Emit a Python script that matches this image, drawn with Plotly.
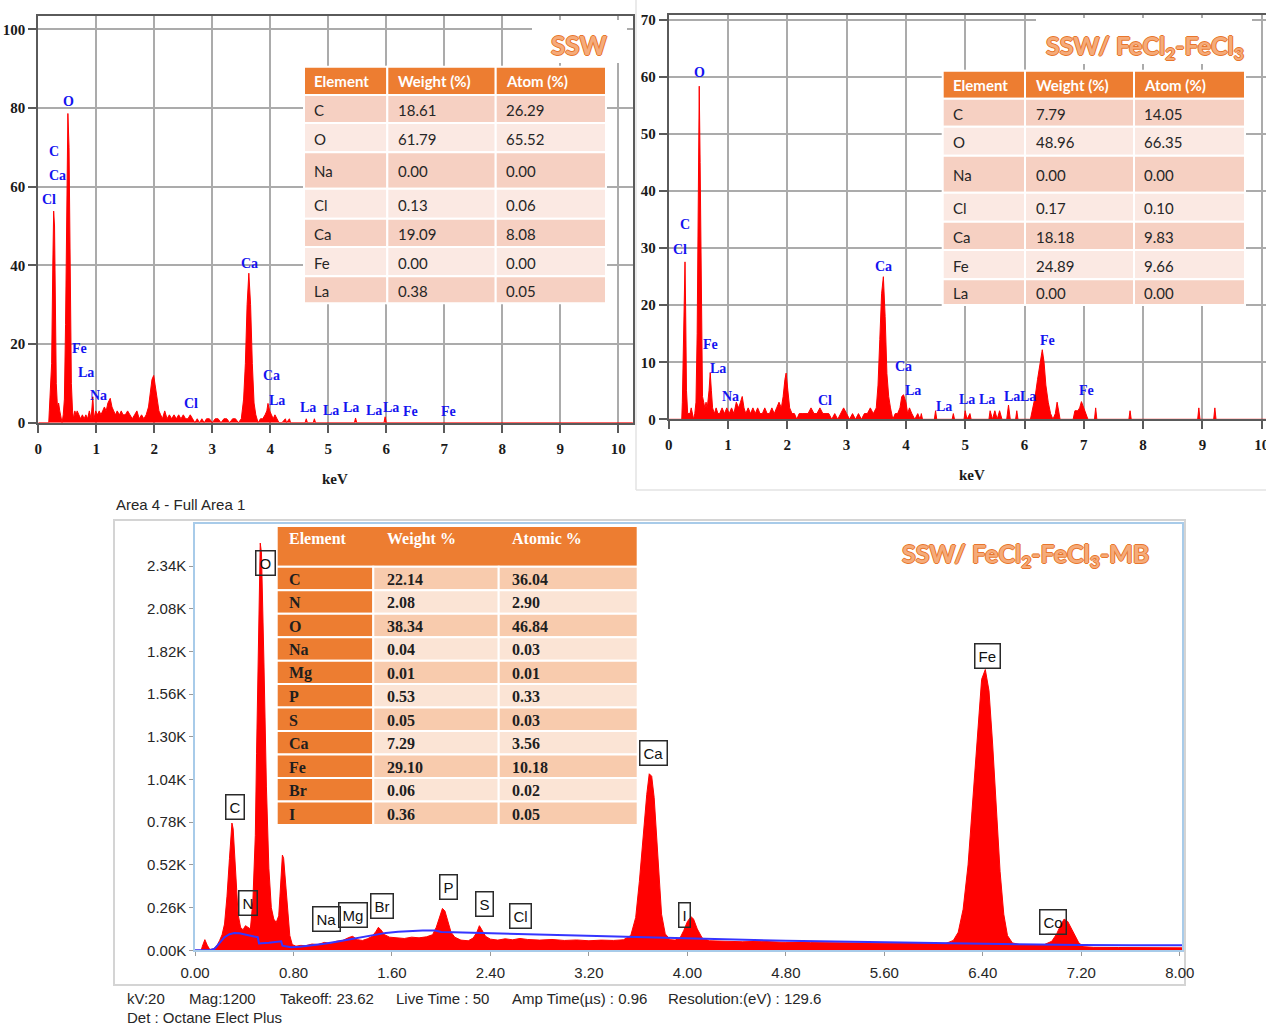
import plotly.graph_objects as go

# ---------------------------------------------------------------- data
# SSW spectrum (keV, counts)
ssw_spectrum = [
    (0.00, 0), (0.18, 0), (0.19, 3), (0.21, 8), (0.23, 15), (0.25, 40), (0.265, 53.8), (0.28, 50),
    (0.29, 30), (0.31, 10), (0.33, 4), (0.35, 5), (0.37, 3), (0.39, 1), (0.41, 0), (0.43, 2),
    (0.45, 6), (0.47, 25), (0.49, 55), (0.51, 78.6), (0.53, 70), (0.55, 35), (0.57, 10), (0.59, 3),
    (0.61, 1), (0.63, 3), (0.65, 2), (0.67, 3), (0.70, 2), (0.73, 1), (0.76, 2), (0.79, 1),
    (0.82, 2), (0.85, 1), (0.88, 3), (0.91, 1), (0.94, 6.6), (0.96, 1), (0.99, 3), (1.02, 2),
    (1.05, 3), (1.08, 2), (1.11, 3), (1.14, 4), (1.17, 3), (1.20, 5), (1.24, 6.2), (1.27, 4),
    (1.30, 3), (1.33, 2), (1.36, 3), (1.40, 2), (1.43, 3), (1.46, 2), (1.50, 2), (1.54, 3),
    (1.58, 2), (1.62, 1), (1.66, 2), (1.70, 3), (1.74, 1), (1.78, 2), (1.82, 1), (1.86, 2),
    (1.90, 4), (1.93, 8), (1.96, 11), (1.99, 12), (2.02, 9), (2.05, 5), (2.08, 3), (2.11, 2),
    (2.14, 1), (2.18, 3), (2.22, 1), (2.26, 2), (2.30, 1), (2.34, 2), (2.38, 1), (2.42, 2),
    (2.46, 1), (2.50, 2), (2.54, 1), (2.58, 1), (2.62, 2), (2.66, 1), (2.70, 0), (2.74, 1),
    (2.78, 0), (2.82, 1), (2.86, 0), (2.90, 1), (2.95, 1), (3.00, 0), (3.05, 1), (3.10, 1),
    (3.15, 0), (3.20, 1), (3.25, 1), (3.30, 0), (3.35, 1), (3.40, 1), (3.45, 0), (3.50, 1),
    (3.54, 6), (3.57, 15), (3.60, 30), (3.63, 38), (3.66, 30), (3.69, 15), (3.72, 5), (3.75, 2),
    (3.79, 0), (3.83, 1), (3.87, 1), (3.91, 2), (3.94, 3), (3.96, 4.9), (3.99, 3), (4.02, 2),
    (4.05, 1), (4.08, 2), (4.11, 1), (4.15, 0), (4.20, 0), (4.26, 1), (4.28, 0), (4.33, 1),
    (4.35, 0), (4.60, 0), (4.62, 1), (4.64, 0), (4.74, 0), (4.76, 1), (4.78, 0), (5.45, 0),
    (5.47, 1.2), (5.49, 0), (5.96, 0), (5.98, 1.5), (6.00, 0), (10.25, 0),
]

# SSW/FeCl2-FeCl3 spectrum (keV, counts)
fe_spectrum = [
    (0.00, 0), (0.22, 0), (0.23, 3), (0.25, 12), (0.265, 22), (0.275, 27.6), (0.285, 20), (0.30, 5),
    (0.32, 1), (0.34, 1), (0.36, 1), (0.38, 2), (0.40, 1), (0.42, 0), (0.44, 1), (0.46, 3),
    (0.48, 15), (0.50, 40), (0.515, 58.4), (0.53, 45), (0.55, 15), (0.57, 4), (0.59, 3), (0.61, 2),
    (0.63, 3), (0.65, 2), (0.68, 5), (0.70, 8.2), (0.72, 5), (0.74, 2), (0.77, 1), (0.80, 2),
    (0.83, 1), (0.86, 1), (0.90, 2), (0.94, 1), (0.98, 2), (1.02, 1), (1.06, 2), (1.10, 1),
    (1.14, 3), (1.18, 2), (1.21, 3), (1.24, 4), (1.27, 2), (1.30, 1), (1.34, 2), (1.38, 1),
    (1.42, 2), (1.46, 1), (1.50, 2), (1.54, 1), (1.58, 1), (1.62, 2), (1.66, 1), (1.70, 1),
    (1.74, 2), (1.78, 1), (1.82, 2), (1.86, 3), (1.90, 2), (1.93, 4), (1.96, 7), (1.98, 8.1),
    (2.01, 5), (2.04, 2), (2.08, 1), (2.12, 1), (2.16, 0), (2.20, 1), (2.25, 1), (2.30, 1),
    (2.35, 1), (2.40, 2), (2.45, 1), (2.50, 1), (2.55, 2), (2.60, 1), (2.65, 1), (2.70, 1),
    (2.75, 0), (2.80, 1), (2.85, 0), (2.90, 1), (2.95, 2), (3.00, 1), (3.05, 0), (3.10, 1),
    (3.15, 0), (3.20, 1), (3.25, 0), (3.30, 1), (3.35, 1), (3.40, 2), (3.45, 1), (3.50, 2),
    (3.53, 6), (3.56, 14), (3.59, 22), (3.62, 25), (3.65, 18), (3.68, 8), (3.71, 4), (3.74, 2),
    (3.78, 0), (3.82, 1), (3.86, 1), (3.90, 2), (3.93, 4), (3.96, 4.3), (4.00, 3), (4.03, 1),
    (4.06, 2), (4.10, 1), (4.15, 0), (4.20, 1), (4.24, 0), (4.26, 1), (4.28, 0), (4.48, 0),
    (4.50, 1.5), (4.52, 0), (4.78, 0), (4.80, 1), (4.82, 0), (4.98, 0), (5.00, 1.5), (5.03, 0),
    (5.08, 1), (5.10, 0), (5.40, 0), (5.42, 1.5), (5.46, 0), (5.50, 1.5), (5.54, 0), (5.58, 1.5),
    (5.62, 0), (5.70, 0), (5.73, 2.5), (5.76, 0), (5.85, 0), (5.87, 1.5), (5.89, 0), (6.10, 0),
    (6.14, 2), (6.18, 4), (6.22, 7), (6.26, 10), (6.30, 12.2), (6.33, 10), (6.36, 6), (6.40, 3),
    (6.44, 1), (6.48, 0), (6.52, 1), (6.55, 3), (6.58, 1), (6.60, 0), (6.82, 0), (6.85, 1.5),
    (6.90, 1.5), (6.93, 2), (6.96, 3.1), (7.00, 2), (7.04, 1), (7.07, 0), (7.18, 0), (7.20, 2),
    (7.22, 0), (7.76, 0), (7.78, 1.5), (7.80, 0), (8.92, 0), (8.94, 2), (8.96, 0), (9.19, 0),
    (9.21, 2), (9.23, 0), (10.07, 0),
]

# SSW/FeCl2-FeCl3-MB spectrum (keV, counts)
mb_spectrum = [
    (0.00, 0), (0.05, 0), (0.06, 25), (0.08, 65), (0.10, 30), (0.12, 5), (0.15, 8), (0.18, 30),
    (0.20, 60), (0.22, 95), (0.24, 160), (0.26, 330), (0.28, 560), (0.29, 700), (0.30, 775),
    (0.31, 740), (0.32, 620), (0.33, 430), (0.35, 220), (0.37, 140), (0.39, 125), (0.41, 150),
    (0.43, 140), (0.45, 130), (0.47, 300), (0.49, 700), (0.50, 1200), (0.51, 1700), (0.52, 2150),
    (0.53, 2480), (0.54, 2420), (0.55, 2150), (0.56, 1750), (0.58, 1000), (0.60, 500), (0.62, 260),
    (0.64, 190), (0.66, 170), (0.68, 210), (0.69, 330), (0.70, 480), (0.71, 580), (0.72, 560),
    (0.73, 470), (0.75, 260), (0.77, 90), (0.79, 35), (0.82, 25), (0.86, 30), (0.90, 28),
    (0.95, 38), (1.00, 35), (1.05, 48), (1.10, 42), (1.15, 55), (1.20, 60), (1.25, 78), (1.28, 85),
    (1.32, 65), (1.36, 60), (1.40, 70), (1.44, 85), (1.47, 115), (1.49, 140), (1.51, 125),
    (1.54, 95), (1.58, 80), (1.64, 78), (1.70, 72), (1.76, 80), (1.82, 76), (1.88, 82), (1.93, 95),
    (1.96, 140), (1.99, 215), (2.01, 255), (2.03, 240), (2.05, 190), (2.08, 110), (2.11, 80),
    (2.16, 62), (2.22, 58), (2.26, 75), (2.29, 110), (2.31, 150), (2.33, 125), (2.36, 85),
    (2.40, 68), (2.46, 62), (2.52, 70), (2.58, 64), (2.64, 72), (2.70, 66), (2.80, 62), (2.90, 66),
    (3.00, 60), (3.10, 63), (3.20, 58), (3.30, 62), (3.40, 60), (3.48, 64), (3.54, 90), (3.58, 200),
    (3.61, 420), (3.64, 700), (3.67, 950), (3.69, 1075), (3.71, 1060), (3.73, 930), (3.75, 700),
    (3.77, 420), (3.79, 220), (3.82, 100), (3.86, 65), (3.90, 62), (3.94, 75), (3.97, 120),
    (4.00, 175), (4.03, 205), (4.05, 190), (4.08, 130), (4.12, 75), (4.18, 58), (4.30, 55),
    (4.45, 52), (4.60, 55), (4.80, 48), (5.00, 47), (5.20, 45), (5.40, 46), (5.60, 42), (5.80, 43),
    (6.00, 40), (6.10, 42), (6.16, 60), (6.20, 110), (6.24, 250), (6.28, 520), (6.32, 950),
    (6.36, 1380), (6.39, 1650), (6.42, 1710), (6.45, 1580), (6.48, 1250), (6.51, 850), (6.54, 480),
    (6.57, 220), (6.60, 90), (6.64, 45), (6.70, 35), (6.80, 32), (6.90, 35), (6.96, 55), (7.00, 100),
    (7.03, 150), (7.06, 190), (7.09, 175), (7.12, 130), (7.15, 80), (7.18, 45), (7.22, 22),
    (7.30, 18), (7.50, 17), (7.75, 16), (8.02, 15),
]

# fitted background of the MB spectrum (keV, counts)
mb_background = [
    (0.00, 0), (0.12, 0), (0.16, 10), (0.20, 45), (0.24, 80), (0.28, 98), (0.32, 105), (0.36, 104),
    (0.40, 96), (0.44, 88), (0.48, 84), (0.51, 80), (0.52, 42), (0.60, 46), (0.66, 52), (0.70, 55),
    (0.71, 28), (0.74, 24), (0.78, 18), (0.85, 22), (0.95, 30), (1.05, 40), (1.15, 52), (1.25, 66),
    (1.35, 80), (1.45, 95), (1.55, 106), (1.65, 113), (1.75, 118), (1.85, 121), (1.95, 121),
    (2.00, 112), (2.10, 110), (2.30, 106), (2.50, 101), (2.80, 95), (3.20, 87), (3.60, 79),
    (4.00, 71), (4.40, 64), (4.80, 58), (5.20, 53), (5.60, 48), (6.00, 44), (6.40, 40), (6.80, 36),
    (7.20, 32), (7.60, 30), (8.02, 30),
]

# peak identifications: label, keV, counts of the label anchor
ssw_peaks = [
    ("O", 0.517, 81.6), ("C", 0.271, 68.9), ("Ca", 0.328, 62.8), ("Cl", 0.184, 56.8),
    ("Ca", 3.638, 40.5), ("Fe", 0.702, 18.9), ("La", 0.822, 12.7), ("Na", 1.035, 6.8),
    ("Cl", 2.633, 4.9), ("Ca", 4.012, 11.9), ("La", 4.116, 5.7), ("La", 4.655, 3.9),
    ("La", 5.041, 3.2), ("La", 5.386, 3.9), ("La", 5.788, 3.2), ("La", 6.076, 3.9),
    ("Fe", 6.409, 2.8), ("Fe", 7.070, 2.8),
]
fe_peaks = [
    ("O", 0.516, 60.8), ("C", 0.280, 34.1), ("Cl", 0.196, 29.7), ("Ca", 3.626, 26.8),
    ("Fe", 0.700, 13.2), ("La", 0.836, 8.9), ("Na", 1.039, 4.0), ("Cl", 2.630, 3.3),
    ("Ca", 3.963, 9.2), ("La", 4.115, 5.1), ("La", 4.648, 2.2), ("La", 5.035, 3.4),
    ("La", 5.373, 3.4), ("La", 5.784, 4.0), ("La", 6.064, 4.0), ("Fe", 6.390, 13.9),
    ("Fe", 7.049, 5.1),
]
mb_peaks = [
    ("O", 0.569, 2360), ("C", 0.325, 873), ("N", 0.434, 286), ("Na", 1.072, 188),
    ("Mg", 1.284, 215), ("Br", 1.515, 268), ("P", 2.058, 385), ("S", 2.348, 281),
    ("Cl", 2.648, 207), ("Ca", 3.721, 1202), ("I", 3.980, 212), ("Fe", 6.434, 1792),
    ("Co", 6.966, 172),
]

# quantification tables
ssw_table_head = ["Element", "Weight (%)", "Atom (%)"]
ssw_elements = ["C", "O", "Na", "Cl", "Ca", "Fe", "La"]
ssw_weight = ["18.61", "61.79", "0.00", "0.13", "19.09", "0.00", "0.38"]
ssw_atom = ["26.29", "65.52", "0.00", "0.06", "8.08", "0.00", "0.05"]

fe_elements = ["C", "O", "Na", "Cl", "Ca", "Fe", "La"]
fe_weight = ["7.79", "48.96", "0.00", "0.17", "18.18", "24.89", "0.00"]
fe_atom = ["14.05", "66.35", "0.00", "0.10", "9.83", "9.66", "0.00"]

mb_table_head = ["Element", "Weight %", "Atomic %"]
mb_elements = ["C", "N", "O", "Na", "Mg", "P", "S", "Ca", "Fe", "Br", "I"]
mb_weight = ["22.14", "2.08", "38.34", "0.04", "0.01", "0.53", "0.05", "7.29", "29.10", "0.06", "0.36"]
mb_atomic = ["36.04", "2.90", "46.84", "0.03", "0.01", "0.33", "0.03", "3.56", "10.18", "0.02", "0.05"]

# axis ticks
kev_ticks = list(range(0, 11))
ssw_y_ticks = [0, 20, 40, 60, 80, 100]
fe_y_ticks = [0, 10, 20, 30, 40, 50, 60, 70]
mb_x_ticks = [0.0, 0.8, 1.6, 2.4, 3.2, 4.0, 4.8, 5.6, 6.4, 7.2, 8.0]
mb_x_labels = ["0.00", "0.80", "1.60", "2.40", "3.20", "4.00", "4.80", "5.60", "6.40", "7.20", "8.00"]
mb_y_ticks = [0, 260, 520, 780, 1040, 1300, 1560, 1820, 2080, 2340]
mb_y_labels = ["0.00K", "0.26K", "0.52K", "0.78K", "1.04K", "1.30K", "1.56K", "1.82K", "2.08K", "2.34K"]

footer_items = ["kV:20", "Mag:1200", "Takeoff: 23.62", "Live Time : 50",
                "Amp Time(µs) : 0.96", "Resolution:(eV) : 129.6"]

# ---------------------------------------------------------------- layout helpers
W, H = 1266, 1026


def px(x):
    return x / W


def py(y):
    return 1 - y / H


RED = "#ff0000"
ORANGE = "#ed7d31"
LABEL_BLUE = "#1414f0"

fig = go.Figure()


def add_spectrum(points, xa, ya):
    kev = [p[0] for p in points]
    cnt = [p[1] for p in points]
    fig.add_trace(go.Scatter(x=kev, y=cnt, xaxis=xa, yaxis=ya, mode="lines",
                             line=dict(color=RED, width=1), fill="tozeroy",
                             fillcolor=RED, hoverinfo="skip", showlegend=False))


add_spectrum(ssw_spectrum, "x", "y")
add_spectrum(fe_spectrum, "x2", "y2")
add_spectrum(mb_spectrum, "x3", "y3")
fig.add_trace(go.Scatter(x=[p[0] for p in mb_background], y=[p[1] for p in mb_background],
                         xaxis="x3", yaxis="y3", mode="lines",
                         line=dict(color="#3535ff", width=2), hoverinfo="skip", showlegend=False))

serif_ticks = dict(family="Liberation Serif", size=15, color="#1a1a1a")
top_axis = dict(showline=True, mirror=True, linecolor="#5a5a5a", linewidth=2,
                showgrid=True, gridcolor="#ababab", gridwidth=2, zeroline=False,
                ticks="outside", ticklen=8, tickwidth=2, tickcolor="#5a5a5a",
                tickfont=serif_ticks, fixedrange=True, automargin=False,
                ticklabeloverflow="allow")


def bold(v):
    return f"<b>{v}</b>"


sans_ticks = dict(family="Liberation Sans", size=15, color="#262626")
bottom_axis = dict(showline=True, mirror=True, linecolor="#a8cbe9", linewidth=1.5,
                   showgrid=False, zeroline=False, ticks="outside", ticklen=4,
                   tickcolor="#9a9a9a", tickfont=sans_ticks, automargin=False,
                   ticklabeloverflow="allow")

fig.update_layout(
    width=W, height=H, margin=dict(l=0, r=0, t=0, b=0, autoexpand=False),
    paper_bgcolor="white", plot_bgcolor="white", showlegend=False,
    xaxis=dict(top_axis, domain=[px(38.3), px(633)], range=[0, (633 - 38.3) / 58.0],
               tickvals=kev_ticks, ticktext=[bold(v) for v in kev_ticks], anchor="y",
               ticklabelstandoff=3),
    yaxis=dict(top_axis, domain=[py(422.7), py(16)], range=[0, (422.7 - 16) / 3.934],
               tickvals=ssw_y_ticks, ticktext=[bold(v) for v in ssw_y_ticks], anchor="x"),
    xaxis2=dict(top_axis, domain=[px(668.7), 1.0], range=[0, (W - 668.7) / 59.3],
                tickvals=kev_ticks, ticktext=[bold(v) for v in kev_ticks], anchor="y2",
                ticklabelstandoff=3),
    yaxis2=dict(top_axis, domain=[py(419.3), py(14.7)], range=[0, (419.3 - 14.7) / 5.704],
                tickvals=fe_y_ticks, ticktext=[bold(v) for v in fe_y_ticks], anchor="x2"),
    xaxis3=dict(bottom_axis, domain=[px(195), px(1182)], range=[0, (1182 - 195) / 123.1],
                anchor="y3", tickvals=mb_x_ticks, ticktext=mb_x_labels, ticklabelstandoff=4),
    yaxis3=dict(bottom_axis, domain=[py(950.3), py(524)], range=[0, (950.3 - 524) * 6.09],
                anchor="x3", tickvals=mb_y_ticks, ticktext=mb_y_labels),
)


def rect(x0, y0, x1, y1, fill, line_color="white", line_width=2, layer="above"):
    fig.add_shape(type="rect", xref="paper", yref="paper",
                  x0=px(x0), x1=px(x1), y0=py(y1), y1=py(y0),
                  fillcolor=fill, line=dict(color=line_color, width=line_width), layer=layer)


def text(x, y, s, font, xanchor="left", yanchor="middle"):
    fig.add_annotation(xref="paper", yref="paper", x=px(x), y=py(y), text=s, showarrow=False,
                       xanchor=xanchor, yanchor=yanchor, font=font)


# frame around the second spectrum image and the boxed third panel
fig.add_shape(type="line", xref="paper", yref="paper", x0=px(636), x1=px(636), y0=py(490), y1=1,
              line=dict(color="#e3e3e3", width=1.5))
fig.add_shape(type="line", xref="paper", yref="paper", x0=px(636), x1=1, y0=py(490), y1=py(490),
              line=dict(color="#e3e3e3", width=1.5))
rect(114, 520, 1185, 985, "rgba(0,0,0,0)", line_color="#d4d4d4", line_width=2, layer="below")

# white boxes behind the sample names
rect(532, 20, 627, 63, "white", line_width=0)
rect(1036, 18, 1252, 64, "white", line_width=0)

title_font = dict(family="Lato", size=25, color="#f5ab7a", weight="bold",
                  shadow="-1px 0 #e8762c, 1px 0 #e8762c, 0 -1px #e8762c, 0 1px #e8762c")
text(578.5, 45, "SSW", dict(title_font, size=26), xanchor="center")
text(1145, 47, "SSW/ FeCl<sub>2</sub>-FeCl<sub>3</sub>", title_font, xanchor="center")
text(1025, 555, "SSW/ FeCl<sub>2</sub>-FeCl<sub>3</sub>-MB", title_font, xanchor="center")


def add_table(xe, ye, head, cols, row_fills, head_font, body_font, pads,
              first_fill=None, first_font=None, merged_head=False, head_text_y=None):
    ty = head_text_y if head_text_y is not None else (ye[0] + ye[1]) / 2
    if merged_head:
        rect(xe[0], ye[0], xe[3], ye[1], ORANGE)
    for c in range(3):
        if not merged_head:
            rect(xe[c], ye[0], xe[c + 1], ye[1], ORANGE)
        text(xe[c] + pads[c], ty, head[c], head_font)
    for r in range(len(cols[0])):
        y0, y1 = ye[r + 1], ye[r + 2]
        for c in range(3):
            fill = first_fill if (c == 0 and first_fill) else row_fills[r % 2]
            rect(xe[c], y0, xe[c + 1], y1, fill)
            f = first_font if (c == 0 and first_font) else body_font
            text(xe[c] + pads[c], (y0 + y1) / 2 + 1, cols[c][r], f)


calibri_head = dict(family="Lato", size=15, color="white", weight="bold")
calibri_body = dict(family="Lato", size=15, color="#262626")
top_fills = ["#f6d0c2", "#fbe9e3"]
add_table([304, 387.3, 495.7, 606],
          [66.7, 95, 123, 152.2, 188.8, 218.8, 247, 276.3, 303.3],
          ssw_table_head, [ssw_elements, ssw_weight, ssw_atom], top_fills,
          calibri_head, calibri_body, [8, 9, 8])
add_table([942.7, 1025, 1134, 1245],
          [70.7, 98.7, 126.8, 155.8, 192.8, 221.7, 250, 279.2, 305],
          ssw_table_head, [fe_elements, fe_weight, fe_atom], top_fills,
          calibri_head, calibri_body, [8, 9, 8])

mb_head_bottom, mb_bottom = 566.7, 825.0
mb_rows = len(mb_elements)
mb_edges = [526.0] + [mb_head_bottom + i * (mb_bottom - mb_head_bottom) / mb_rows
                      for i in range(mb_rows + 1)]
times_bold = dict(family="Liberation Serif", size=16, color="#1e1e1e", weight="bold")
add_table([276.7, 373.3, 498.7, 637.7], mb_edges,
          mb_table_head, [mb_elements, mb_weight, mb_atomic], ["#f8cbad", "#fbe4d5"],
          dict(times_bold, color="white"), times_bold, [10, 12, 11],
          first_fill=ORANGE, first_font=times_bold, merged_head=True, head_text_y=538.5)

# peak labels of the two upper spectra
for axes, peaks in (("", ssw_peaks), ("2", fe_peaks)):
    for name, kev, cnt in peaks:
        fig.add_annotation(xref="x" + axes, yref="y" + axes, x=kev, y=cnt, text=bold(name),
                           showarrow=False, xanchor="center", yanchor="middle",
                           font=dict(family="Liberation Serif", size=14, color=LABEL_BLUE))

# boxed peak labels of the lower spectrum
for name, kev, cnt in mb_peaks:
    fig.add_annotation(xref="x3", yref="y3", x=kev, y=cnt, text=name, showarrow=False,
                       xanchor="center", yanchor="middle", bordercolor="#2a2a2a",
                       borderwidth=1.5, borderpad=3, bgcolor="rgba(255,255,255,0)",
                       font=dict(family="Liberation Sans", size=15, color="#111111"))

# axis titles of the upper spectra
kev_font = dict(family="Liberation Serif", size=15, color="#1a1a1a", weight="bold")
text(335, 479, "keV", kev_font, xanchor="center")
text(972, 475, "keV", kev_font, xanchor="center")

# header and acquisition details of the lower spectrum
info_font = dict(family="Liberation Sans", size=15, color="#262626")
text(114, 504, "Area 4 - Full Area 1", info_font)
for item, x in zip(footer_items, [125, 187, 278, 394, 510, 666]):
    text(x, 998, item, info_font)
text(125, 1017, "Det : Octane Elect Plus", info_font)

fig.write_html("out.html")
